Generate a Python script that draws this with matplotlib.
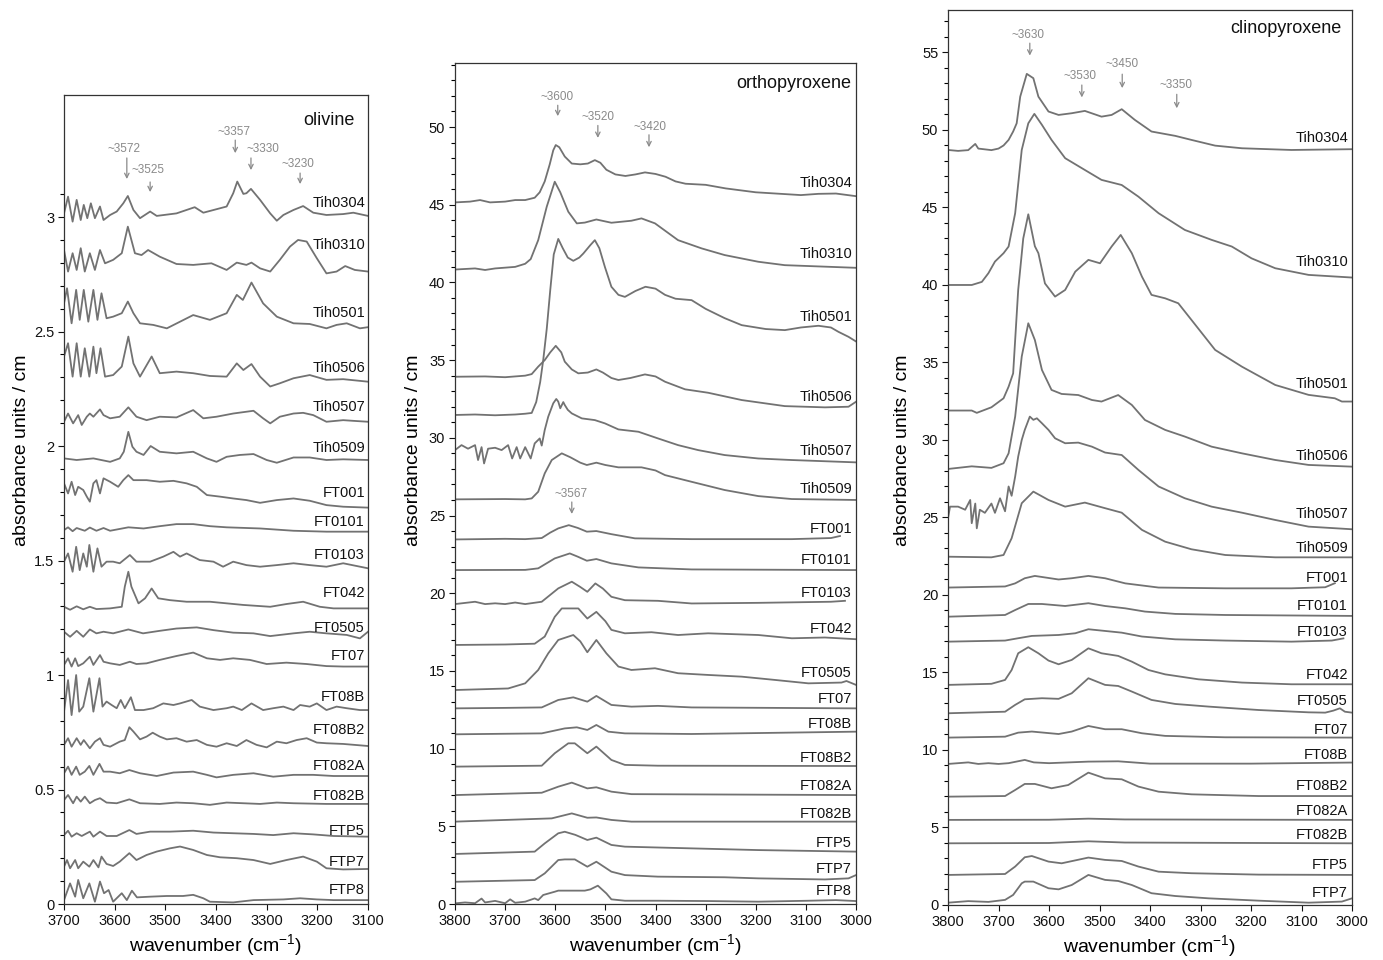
import matplotlib
matplotlib.use("Agg")
import matplotlib.pyplot as plt
from matplotlib.ticker import MultipleLocator, FixedLocator
import matplotlib.transforms as mtransforms

plt.rcParams['font.family'] = ['Liberation Sans', 'DejaVu Sans']
plt.rcParams['mathtext.default'] = 'regular'

# ---------------- olivine ----------------
ol_names = ["Tih0304", "Tih0310", "Tih0501", "Tih0506", "Tih0507", "Tih0509",
            "FT001", "FT0101", "FT0103", "FT042", "FT0505", "FT07", "FT08B",
            "FT08B2", "FT082A", "FT082B", "FTP5", "FTP7", "FTP8"]
ol_wn = [
    [3700, 3692, 3683, 3675, 3667, 3661, 3654, 3647, 3639, 3629, 3622, 3609, 3596, 3583, 3574, 3563, 3550, 3530, 3517,
     3478, 3442, 3425, 3379, 3366, 3358, 3346, 3340, 3331, 3313, 3293, 3280, 3267, 3247, 3228, 3208, 3182, 3149, 3129, 3100],
    [3700, 3692, 3683, 3675, 3667, 3659, 3649, 3639, 3629, 3619, 3603, 3586, 3574, 3560, 3547, 3534, 3511, 3478, 3445,
     3409, 3379, 3359, 3340, 3330, 3313, 3293, 3274, 3254, 3238, 3221, 3201, 3182, 3162, 3145, 3126, 3100],
    [3700, 3694, 3685, 3676, 3669, 3661, 3652, 3642, 3634, 3626, 3616, 3603, 3586, 3574, 3563, 3550, 3524, 3497, 3471,
     3445, 3412, 3379, 3359, 3347, 3330, 3307, 3280, 3247, 3215, 3182, 3162, 3142, 3116, 3100],
    [3700, 3692, 3683, 3675, 3667, 3659, 3650, 3642, 3636, 3628, 3619, 3603, 3586, 3573, 3563, 3550, 3527, 3511, 3478,
     3445, 3412, 3379, 3359, 3346, 3330, 3313, 3293, 3274, 3247, 3215, 3182, 3149, 3100],
    [3700, 3692, 3682, 3672, 3665, 3655, 3649, 3642, 3629, 3622, 3609, 3590, 3573, 3557, 3537, 3511, 3478, 3445, 3425,
     3399, 3366, 3326, 3307, 3293, 3274, 3247, 3228, 3208, 3182, 3149, 3129, 3100],
    [3700, 3675, 3642, 3609, 3590, 3582, 3573, 3565, 3557, 3543, 3529, 3511, 3478, 3445, 3418, 3399, 3379, 3353, 3326,
     3300, 3280, 3247, 3215, 3182, 3149, 3100],
    [3700, 3692, 3685, 3678, 3672, 3662, 3655, 3649, 3642, 3636, 3629, 3622, 3609, 3593, 3583, 3573, 3563, 3537, 3511,
     3484, 3458, 3438, 3418, 3392, 3366, 3340, 3313, 3280, 3247, 3215, 3182, 3149, 3100],
    [3700, 3692, 3683, 3675, 3659, 3649, 3636, 3622, 3609, 3573, 3543, 3511, 3478, 3445, 3412, 3379, 3313, 3247, 3182, 3100],
    [3700, 3692, 3683, 3676, 3669, 3662, 3655, 3650, 3642, 3634, 3626, 3616, 3603, 3590, 3570, 3557, 3530, 3504, 3484,
     3471, 3458, 3432, 3405, 3386, 3366, 3340, 3313, 3280, 3247, 3215, 3182, 3149, 3100],
    [3700, 3688, 3675, 3662, 3649, 3636, 3609, 3586, 3580, 3573, 3567, 3553, 3540, 3527, 3514, 3491, 3458, 3412, 3346,
     3293, 3261, 3228, 3195, 3168, 3100],
    [3700, 3688, 3675, 3662, 3649, 3636, 3622, 3603, 3573, 3544, 3511, 3478, 3438, 3405, 3366, 3326, 3293, 3247, 3215,
     3182, 3142, 3116, 3100],
    [3700, 3692, 3685, 3678, 3672, 3662, 3649, 3642, 3629, 3622, 3609, 3590, 3570, 3557, 3537, 3511, 3478, 3445, 3418,
     3392, 3366, 3333, 3300, 3261, 3221, 3182, 3149, 3100],
    [3700, 3692, 3685, 3676, 3670, 3662, 3650, 3642, 3630, 3624, 3616, 3606, 3596, 3588, 3580, 3568, 3560, 3543, 3524,
     3504, 3484, 3471, 3448, 3432, 3405, 3379, 3366, 3349, 3330, 3307, 3287, 3267, 3247, 3234, 3215, 3201, 3182, 3162,
     3142, 3116, 3100],
    [3700, 3692, 3685, 3675, 3667, 3661, 3649, 3639, 3629, 3622, 3609, 3590, 3580, 3571, 3563, 3550, 3537, 3525, 3511,
     3497, 3478, 3458, 3438, 3418, 3399, 3379, 3359, 3340, 3320, 3300, 3280, 3261, 3241, 3221, 3201, 3182, 3149, 3100],
    [3700, 3692, 3685, 3676, 3669, 3659, 3650, 3642, 3630, 3622, 3609, 3590, 3571, 3550, 3517, 3484, 3445, 3418, 3399,
     3366, 3326, 3287, 3247, 3208, 3168, 3100],
    [3700, 3692, 3682, 3675, 3667, 3659, 3649, 3639, 3629, 3616, 3596, 3571, 3550, 3511, 3478, 3445, 3412, 3379, 3346,
     3313, 3280, 3247, 3182, 3100],
    [3700, 3692, 3685, 3675, 3665, 3649, 3642, 3629, 3616, 3596, 3571, 3557, 3530, 3491, 3445, 3405, 3366, 3326, 3287,
     3247, 3208, 3168, 3100],
    [3700, 3694, 3688, 3678, 3672, 3662, 3650, 3642, 3632, 3626, 3616, 3603, 3590, 3571, 3557, 3537, 3517, 3491, 3471,
     3445, 3418, 3392, 3359, 3326, 3293, 3261, 3228, 3201, 3182, 3149, 3100],
    [3700, 3688, 3678, 3672, 3662, 3650, 3639, 3629, 3621, 3612, 3603, 3586, 3576, 3566, 3556, 3530, 3497, 3465, 3445,
     3425, 3412, 3366, 3326, 3267, 3234, 3201, 3168, 3135, 3100],
]
ol_abs = [
    [3.016, 3.089, 2.980, 3.075, 2.987, 3.053, 2.995, 3.060, 2.995, 3.046, 2.987, 3.009, 3.024, 3.060, 3.092, 3.031,
     2.995, 3.024, 3.005, 3.016, 3.043, 3.019, 3.046, 3.104, 3.155, 3.101, 3.104, 3.123, 3.075, 3.016, 2.984, 3.009,
     3.031, 3.048, 3.019, 3.009, 3.013, 3.019, 3.005],
    [2.856, 2.762, 2.842, 2.769, 2.864, 2.762, 2.842, 2.769, 2.856, 2.798, 2.813, 2.842, 2.958, 2.842, 2.834, 2.856,
     2.827, 2.795, 2.791, 2.798, 2.769, 2.801, 2.791, 2.801, 2.776, 2.762, 2.813, 2.871, 2.900, 2.893, 2.820, 2.754,
     2.762, 2.786, 2.769, 2.762],
    [2.623, 2.689, 2.536, 2.682, 2.551, 2.682, 2.543, 2.682, 2.551, 2.667, 2.558, 2.565, 2.580, 2.631, 2.580, 2.536,
     2.529, 2.514, 2.543, 2.572, 2.551, 2.580, 2.660, 2.638, 2.714, 2.623, 2.565, 2.536, 2.533, 2.514, 2.529, 2.536,
     2.514, 2.519],
    [2.391, 2.449, 2.303, 2.449, 2.303, 2.427, 2.303, 2.434, 2.318, 2.427, 2.303, 2.310, 2.347, 2.478, 2.361, 2.303,
     2.391, 2.318, 2.325, 2.318, 2.306, 2.303, 2.361, 2.332, 2.358, 2.303, 2.260, 2.274, 2.296, 2.310, 2.289, 2.292,
     2.281],
    [2.106, 2.142, 2.099, 2.135, 2.092, 2.128, 2.142, 2.128, 2.160, 2.135, 2.121, 2.128, 2.169, 2.128, 2.113, 2.128,
     2.125, 2.157, 2.121, 2.128, 2.142, 2.154, 2.121, 2.099, 2.128, 2.142, 2.145, 2.135, 2.106, 2.113, 2.110, 2.106],
    [1.946, 1.939, 1.946, 1.931, 1.946, 1.975, 2.062, 1.997, 1.975, 1.961, 2.000, 1.975, 1.968, 1.975, 1.946, 1.931,
     1.953, 1.961, 1.965, 1.939, 1.927, 1.950, 1.950, 1.939, 1.942, 1.939],
    [1.837, 1.793, 1.844, 1.786, 1.822, 1.808, 1.779, 1.757, 1.837, 1.851, 1.793, 1.859, 1.844, 1.822, 1.851, 1.873,
     1.851, 1.851, 1.844, 1.848, 1.837, 1.822, 1.786, 1.779, 1.771, 1.764, 1.752, 1.764, 1.771, 1.761, 1.742, 1.735,
     1.731],
    [1.633, 1.645, 1.628, 1.642, 1.630, 1.644, 1.630, 1.642, 1.630, 1.645, 1.640, 1.650, 1.659, 1.659, 1.650, 1.645,
     1.640, 1.630, 1.626, 1.626],
    [1.495, 1.531, 1.451, 1.560, 1.458, 1.531, 1.473, 1.568, 1.451, 1.553, 1.473, 1.495, 1.495, 1.488, 1.524, 1.495,
     1.495, 1.517, 1.538, 1.517, 1.531, 1.502, 1.495, 1.473, 1.495, 1.480, 1.473, 1.480, 1.488, 1.480, 1.473, 1.488,
     1.466],
    [1.298, 1.285, 1.300, 1.287, 1.298, 1.288, 1.291, 1.298, 1.386, 1.451, 1.386, 1.313, 1.335, 1.378, 1.335, 1.327,
     1.320, 1.320, 1.306, 1.298, 1.310, 1.320, 1.298, 1.291, 1.291],
    [1.189, 1.167, 1.193, 1.167, 1.199, 1.182, 1.189, 1.182, 1.199, 1.182, 1.193, 1.203, 1.208, 1.196, 1.185, 1.182,
     1.170, 1.182, 1.189, 1.182, 1.175, 1.160, 1.189],
    [1.044, 1.073, 1.037, 1.073, 1.039, 1.051, 1.080, 1.044, 1.087, 1.058, 1.051, 1.044, 1.058, 1.048, 1.051, 1.066,
     1.083, 1.098, 1.073, 1.066, 1.073, 1.066, 1.048, 1.054, 1.048, 1.039, 1.037, 1.037],
    [0.840, 0.978, 0.825, 1.000, 0.840, 0.862, 0.986, 0.840, 0.986, 0.862, 0.884, 0.869, 0.855, 0.891, 0.855, 0.903,
     0.847, 0.847, 0.855, 0.876, 0.869, 0.876, 0.891, 0.862, 0.847, 0.855, 0.862, 0.847, 0.876, 0.847, 0.855, 0.862,
     0.847, 0.869, 0.862, 0.876, 0.847, 0.862, 0.855, 0.847, 0.847],
    [0.695, 0.724, 0.687, 0.724, 0.695, 0.716, 0.680, 0.709, 0.724, 0.695, 0.687, 0.709, 0.716, 0.772, 0.753, 0.719,
     0.731, 0.748, 0.731, 0.719, 0.724, 0.709, 0.716, 0.695, 0.687, 0.702, 0.690, 0.716, 0.695, 0.684, 0.709, 0.702,
     0.716, 0.724, 0.705, 0.702, 0.699, 0.690],
    [0.571, 0.600, 0.564, 0.600, 0.564, 0.578, 0.603, 0.564, 0.612, 0.578, 0.578, 0.571, 0.585, 0.571, 0.559, 0.574,
     0.578, 0.564, 0.553, 0.564, 0.571, 0.556, 0.564, 0.564, 0.559, 0.559],
    [0.454, 0.476, 0.440, 0.469, 0.447, 0.469, 0.440, 0.454, 0.462, 0.443, 0.440, 0.457, 0.440, 0.437, 0.443, 0.440,
     0.433, 0.443, 0.440, 0.437, 0.443, 0.440, 0.437, 0.437],
    [0.301, 0.320, 0.294, 0.309, 0.297, 0.316, 0.294, 0.316, 0.297, 0.297, 0.323, 0.306, 0.316, 0.316, 0.320, 0.312,
     0.309, 0.306, 0.301, 0.309, 0.304, 0.297, 0.294],
    [0.163, 0.192, 0.156, 0.192, 0.156, 0.185, 0.163, 0.192, 0.160, 0.207, 0.175, 0.166, 0.185, 0.222, 0.192, 0.214,
     0.229, 0.243, 0.251, 0.236, 0.214, 0.204, 0.200, 0.192, 0.175, 0.192, 0.207, 0.185, 0.156, 0.151, 0.153],
    [0.017, 0.090, 0.032, 0.105, 0.025, 0.090, 0.010, 0.098, 0.047, 0.061, 0.010, 0.047, 0.017, 0.058, 0.029, 0.032,
     0.035, 0.035, 0.040, 0.025, 0.010, 0.007, 0.017, 0.020, 0.025, 0.020, 0.017, 0.017, 0.017],
]
ol_label_y = [3.06, 2.88, 2.58, 2.34, 2.17, 1.99, 1.795, 1.668, 1.524, 1.358, 1.205, 1.083, 0.904,
              0.76, 0.603, 0.472, 0.319, 0.183, 0.061]
ol_peaks = ["~3572", "~3525", "~3357", "~3330", "~3230"]
ol_peak_wn = [3576, 3530, 3362, 3331, 3234]
ol_peak_text_wn = [3582, 3534, 3364, 3307, 3238]
ol_peak_text_y = [3.297, 3.205, 3.371, 3.297, 3.231]
ol_arrow_top = [3.258, 3.153, 3.336, 3.258, 3.192]
ol_arrow_tip = [3.166, 3.109, 3.279, 3.205, 3.144]

# ---------------- orthopyroxene ----------------
opx_names = ["Tih0304", "Tih0310", "Tih0501", "Tih0506", "Tih0507", "Tih0509",
             "FT001", "FT0101", "FT0103", "FT042", "FT0505", "FT07", "FT08B",
             "FT08B2", "FT082A", "FT082B", "FTP5", "FTP7", "FTP8"]
opx_wn = [
    [3800, 3770, 3750, 3730, 3700, 3680, 3660, 3641, 3631, 3621, 3611, 3604, 3599, 3592, 3581, 3567, 3550, 3535, 3521,
     3510, 3498, 3480, 3460, 3440, 3421, 3400, 3380, 3360, 3340, 3300, 3260, 3200, 3150, 3110, 3075, 3040, 3000],
    [3800, 3760, 3740, 3720, 3700, 3680, 3660, 3649, 3634, 3617, 3601, 3590, 3574, 3557, 3541, 3518, 3488, 3448, 3428,
     3401, 3355, 3308, 3262, 3195, 3142, 3000],
    [3800, 3760, 3720, 3680, 3660, 3647, 3638, 3630, 3624, 3617, 3610, 3603, 3594, 3585, 3575, 3564, 3552, 3544, 3530,
     3521, 3512, 3501, 3488, 3474, 3461, 3440, 3420, 3400, 3381, 3360, 3328, 3300, 3262, 3228, 3180, 3142, 3110, 3075,
     3050, 3035, 3015, 3000],
    [3800, 3740, 3700, 3660, 3647, 3634, 3621, 3610, 3599, 3588, 3581, 3567, 3554, 3535, 3518, 3505, 3488, 3474, 3450,
     3421, 3400, 3381, 3341, 3295, 3228, 3142, 3062, 3015, 3000],
    [3800, 3787, 3774, 3760, 3754, 3747, 3742, 3734, 3720, 3707, 3694, 3686, 3677, 3670, 3660, 3649, 3641, 3631, 3627,
     3621, 3614, 3604, 3598, 3594, 3590, 3584, 3581, 3575, 3567, 3547, 3521, 3501, 3474, 3434, 3395, 3355, 3315, 3262,
     3195, 3128, 3000],
    [3800, 3700, 3660, 3647, 3634, 3621, 3607, 3587, 3570, 3550, 3537, 3518, 3500, 3474, 3428, 3400, 3381, 3328, 3262,
     3195, 3128, 3000],
    [3800, 3700, 3660, 3627, 3610, 3594, 3573, 3555, 3537, 3518, 3488, 3441, 3328, 3128, 3050, 3032],
    [3800, 3660, 3634, 3601, 3571, 3555, 3537, 3518, 3488, 3434, 3328, 3000],
    [3800, 3760, 3740, 3720, 3700, 3680, 3660, 3627, 3594, 3567, 3550, 3536, 3520, 3505, 3488, 3461, 3395, 3328, 3195,
     3050, 3022],
    [3800, 3700, 3641, 3621, 3601, 3587, 3554, 3536, 3518, 3500, 3488, 3461, 3408, 3355, 3295, 3195, 3128, 3062, 3000],
    [3800, 3694, 3660, 3634, 3614, 3594, 3564, 3550, 3536, 3518, 3498, 3474, 3448, 3401, 3355, 3295, 3228, 3162, 3095,
     3029, 3019, 3000],
    [3800, 3700, 3627, 3594, 3564, 3536, 3518, 3488, 3448, 3395, 3328, 3000],
    [3800, 3627, 3581, 3557, 3536, 3518, 3494, 3461, 3328, 3000],
    [3800, 3627, 3601, 3574, 3561, 3536, 3518, 3488, 3461, 3395, 3000],
    [3800, 3627, 3594, 3567, 3536, 3518, 3488, 3448, 3000],
    [3800, 3607, 3567, 3536, 3518, 3488, 3448, 3000],
    [3800, 3641, 3621, 3594, 3581, 3560, 3536, 3518, 3488, 3461, 3328, 3195, 3000],
    [3800, 3641, 3621, 3594, 3581, 3561, 3536, 3518, 3488, 3461, 3395, 3262, 3195, 3062, 3015, 3000],
    [3800, 3780, 3760, 3747, 3740, 3720, 3700, 3690, 3680, 3660, 3641, 3634, 3624, 3601, 3594, 3541, 3530, 3515, 3498,
     3488, 3461, 3395, 3295, 3195, 3095, 3040, 3000],
]
opx_abs = [
    [45.15, 45.2, 45.3, 45.15, 45.2, 45.3, 45.3, 45.45, 45.8, 46.5, 47.6, 48.5, 48.84, 48.7, 48.1, 47.65, 47.6, 47.65,
     47.87, 47.7, 47.25, 46.95, 46.85, 46.95, 47.08, 46.98, 46.8, 46.5, 46.35, 46.28, 46.05, 45.8, 45.7, 45.62, 45.7,
     45.72, 45.55],
    [40.83, 40.9, 40.8, 40.9, 40.95, 41.0, 41.2, 41.5, 42.72, 44.87, 46.48, 45.8, 44.55, 43.8, 43.85, 44.05, 43.84,
     43.97, 44.12, 43.8, 42.72, 42.19, 41.76, 41.33, 41.11, 40.94],
    [31.47, 31.5, 31.45, 31.5, 31.55, 31.6, 32.3, 33.6, 35.0, 37.0, 39.5, 41.8, 42.8, 42.2, 41.6, 41.39, 41.6, 41.86,
     42.4, 42.72, 42.2, 41.0, 39.72, 39.2, 39.07, 39.45, 39.72, 39.6, 39.2, 38.95, 38.86, 38.3, 37.7, 37.25, 37.0,
     36.93, 37.1, 37.21, 37.1, 36.82, 36.5, 36.2],
    [33.93, 33.95, 33.9, 34.0, 34.1, 34.58, 35.0, 35.5, 35.92, 35.5, 34.9, 34.4, 34.15, 34.2, 34.4, 34.2, 33.85, 33.72,
     33.85, 34.08, 33.95, 33.61, 33.12, 32.9, 32.43, 32.04, 31.96, 32.0, 32.32],
    [29.21, 29.53, 29.3, 29.53, 28.57, 29.4, 28.35, 29.3, 29.36, 29.21, 29.53, 28.67, 29.4, 28.67, 29.4, 28.67, 29.64,
     29.96, 29.5, 30.5, 31.36, 32.22, 32.5, 32.33, 31.9, 32.3, 32.11, 31.8, 31.57, 31.25, 31.14, 30.93, 30.54, 30.39,
     29.96, 29.53, 29.21, 28.89, 28.67, 28.57, 28.42],
    [26.04, 26.06, 26.04, 26.1, 26.53, 27.71, 28.57, 29.0, 28.75, 28.4, 28.25, 28.4, 28.25, 28.1, 28.1, 27.9, 27.6,
     27.17, 26.64, 26.25, 26.06, 26.0],
    [23.46, 23.5, 23.48, 23.55, 23.9, 24.17, 24.38, 24.2, 23.96, 24.0, 23.8, 23.53, 23.48, 23.48, 23.55, 23.68],
    [21.49, 21.5, 21.6, 22.24, 22.56, 22.35, 22.09, 22.2, 21.92, 21.66, 21.53, 21.49],
    [19.3, 19.45, 19.3, 19.35, 19.3, 19.4, 19.3, 19.45, 20.31, 20.74, 20.4, 20.09, 20.63, 20.3, 19.77, 19.55, 19.51,
     19.34, 19.38, 19.45, 19.51],
    [16.67, 16.7, 16.75, 17.21, 18.48, 19.02, 19.02, 18.37, 18.8, 18.2, 17.64, 17.42, 17.49, 17.31, 17.42, 17.31, 17.1,
     17.15, 17.04],
    [13.77, 13.87, 14.2, 15.06, 16.13, 16.99, 17.31, 16.9, 16.2, 16.99, 16.13, 15.28, 15.06, 15.17, 14.85, 14.74, 14.63,
     14.42, 14.2, 14.25, 14.35, 14.1],
    [12.59, 12.62, 12.65, 13.13, 13.3, 13.02, 13.39, 12.81, 12.7, 12.75, 12.65, 12.59],
    [10.92, 10.98, 11.3, 11.37, 11.2, 11.52, 11.09, 10.98, 10.94, 11.09],
    [8.84, 8.9, 9.7, 10.34, 10.34, 9.7, 10.13, 9.27, 8.95, 8.9, 8.88],
    [7.01, 7.16, 7.55, 7.81, 7.44, 7.51, 7.23, 7.07, 7.01],
    [5.3, 5.51, 5.83, 5.55, 5.57, 5.41, 5.3, 5.3],
    [3.22, 3.37, 3.9, 4.55, 4.65, 4.45, 4.12, 4.27, 3.8, 3.69, 3.58, 3.47, 3.37],
    [1.43, 1.54, 1.97, 2.83, 2.87, 2.87, 2.4, 2.72, 2.08, 1.86, 1.76, 1.72, 1.65, 1.58, 1.65, 1.86],
    [0.04, 0.1, 0.05, 0.35, 0.1, 0.2, 0.05, 0.3, 0.08, 0.15, 0.36, 0.25, 0.58, 0.79, 0.86, 0.86, 0.94, 1.18, 0.68, 0.3,
     0.21, 0.21, 0.19, 0.15, 0.21, 0.25, 0.19],
]
opx_label_y = [46.4, 41.83, 37.77, 32.63, 29.15, 26.71, 24.13, 22.14, 20.01, 17.7, 14.86, 13.19, 11.58,
               9.4, 7.59, 5.79, 3.93, 2.25, 0.84]
opx_peaks = ["~3600", "~3520", "~3420", "~3567"]
opx_peak_wn = [3595, 3515, 3413, 3567]
opx_peak_text_wn = [3597, 3515, 3411, 3569]
opx_peak_text_y = [51.93, 50.64, 50.0, 26.38]
opx_arrow_top = [51.4, 50.1, 49.5, 25.87]
opx_arrow_tip = [50.7, 49.3, 48.7, 25.1]

# ---------------- clinopyroxene ----------------
cpx_names = ["Tih0304", "Tih0310", "Tih0501", "Tih0506", "Tih0507", "Tih0509",
             "FT001", "FT0101", "FT0103", "FT042", "FT0505", "FT07", "FT08B",
             "FT08B2", "FT082A", "FT082B", "FTP5", "FTP7"]
cpx_wn = [
    [3800, 3780, 3760, 3746, 3740, 3727, 3714, 3700, 3690, 3680, 3671, 3664, 3657, 3644, 3631, 3621, 3601, 3581, 3555,
     3529, 3496, 3476, 3456, 3430, 3397, 3350, 3318, 3271, 3218, 3120, 3000],
    [3800, 3753, 3733, 3720, 3707, 3690, 3680, 3667, 3654, 3641, 3629, 3614, 3595, 3568, 3529, 3496, 3456, 3423, 3383,
     3331, 3278, 3238, 3199, 3152, 3086, 3000],
    [3800, 3753, 3743, 3714, 3690, 3680, 3671, 3661, 3651, 3641, 3628, 3621, 3608, 3588, 3568, 3548, 3522, 3499, 3476,
     3458, 3436, 3416, 3397, 3370, 3344, 3318, 3271, 3218, 3152, 3086, 3034, 3020, 3000],
    [3800, 3753, 3714, 3690, 3680, 3667, 3654, 3641, 3628, 3614, 3595, 3575, 3542, 3515, 3496, 3463, 3436, 3410, 3370,
     3331, 3278, 3218, 3152, 3086, 3000],
    [3800, 3796, 3780, 3766, 3756, 3753, 3746, 3743, 3737, 3727, 3714, 3707, 3697, 3687, 3680, 3674, 3667, 3661, 3654,
     3648, 3638, 3631, 3624, 3614, 3601, 3588, 3568, 3542, 3515, 3489, 3456, 3423, 3383, 3331, 3278, 3218, 3152, 3086,
     3000],
    [3800, 3714, 3690, 3674, 3654, 3631, 3601, 3568, 3529, 3489, 3456, 3416, 3370, 3318, 3251, 3152, 3000],
    [3800, 3687, 3667, 3648, 3628, 3581, 3555, 3522, 3489, 3449, 3383, 3251, 3120, 3053, 3034],
    [3800, 3687, 3667, 3641, 3614, 3568, 3522, 3489, 3449, 3410, 3350, 3251, 3000],
    [3800, 3687, 3661, 3634, 3581, 3548, 3522, 3489, 3456, 3416, 3350, 3251, 3120, 3040, 3017],
    [3800, 3714, 3687, 3674, 3661, 3641, 3621, 3601, 3581, 3555, 3522, 3496, 3463, 3436, 3403, 3370, 3304, 3218, 3120,
     3000],
    [3800, 3687, 3667, 3648, 3614, 3581, 3555, 3522, 3489, 3463, 3436, 3397, 3350, 3284, 3185, 3086, 3053, 3037, 3024,
     3014, 3000],
    [3800, 3687, 3661, 3634, 3581, 3555, 3522, 3489, 3456, 3416, 3370, 3251, 3000],
    [3800, 3760, 3740, 3720, 3700, 3680, 3648, 3630, 3600, 3522, 3463, 3400, 3200, 3000],
    [3800, 3687, 3667, 3648, 3628, 3595, 3562, 3522, 3489, 3456, 3423, 3383, 3318, 3185, 3000],
    [3800, 3600, 3522, 3450, 3000],
    [3800, 3600, 3522, 3450, 3000],
    [3800, 3687, 3667, 3648, 3634, 3601, 3575, 3522, 3489, 3456, 3423, 3383, 3318, 3185, 3000],
    [3800, 3760, 3720, 3687, 3671, 3654, 3648, 3631, 3601, 3581, 3555, 3522, 3489, 3463, 3436, 3397, 3350, 3284, 3185,
     3086, 3020, 3000],
]
cpx_abs = [
    [48.71, 48.65, 48.7, 49.1, 48.8, 48.75, 48.7, 48.8, 49.0, 49.36, 49.9, 50.43, 52.15, 53.62, 53.34, 52.15, 51.19,
     50.97, 51.08, 51.23, 50.86, 50.97, 51.34, 50.65, 49.9, 49.62, 49.36, 48.99, 48.82, 48.71, 48.76],
    [40.0, 40.0, 40.2, 40.76, 41.51, 42.05, 42.48, 44.63, 48.71, 50.43, 51.04, 50.33, 49.36, 48.18, 47.42, 46.78, 46.45,
     45.7, 44.63, 43.55, 42.91, 42.48, 41.72, 41.08, 40.65, 40.48],
    [31.9, 31.9, 31.75, 32.11, 32.69, 33.44, 34.3, 39.68, 43.0, 44.56, 42.5, 42.05, 40.1, 39.25, 39.68, 40.86, 41.62,
     41.4, 42.48, 43.23, 42.05, 40.54, 39.36, 39.14, 38.82, 37.75, 35.81, 34.73, 33.55, 32.91, 32.69, 32.48, 32.48],
    [28.13, 28.3, 28.2, 28.5, 29.14, 31.51, 35.38, 37.53, 36.45, 34.52, 33.23, 32.97, 32.9, 32.58, 32.48, 32.9, 32.26,
     31.29, 30.65, 30.22, 29.57, 29.14, 28.71, 28.39, 28.28],
    [24.95, 25.7, 25.7, 25.5, 26.13, 24.63, 25.9, 24.3, 25.5, 25.3, 25.9, 25.3, 26.24, 25.4, 27.0, 26.4, 27.64, 28.93,
     30.0, 30.65, 31.51, 31.3, 31.4, 31.08, 30.65, 30.11, 29.79, 29.83, 29.57, 29.19, 29.03, 28.07, 27.0, 26.24, 25.7,
     25.31, 24.84, 24.41, 24.24],
    [22.47, 22.43, 22.58, 23.66, 25.92, 26.67, 26.13, 25.7, 25.96, 25.6, 25.31, 24.2, 23.44, 22.95, 22.58, 22.43, 22.43],
    [20.48, 20.55, 20.75, 21.08, 21.23, 21.0, 21.08, 21.23, 21.08, 20.75, 20.48, 20.43, 20.43, 20.5, 20.76],
    [18.6, 18.71, 19.03, 19.42, 19.42, 19.29, 19.47, 19.29, 19.14, 18.93, 18.78, 18.71, 18.65],
    [16.99, 17.06, 17.21, 17.36, 17.42, 17.53, 17.79, 17.68, 17.57, 17.32, 17.14, 17.06, 16.99, 17.06, 17.2],
    [14.2, 14.27, 14.52, 15.16, 16.24, 16.63, 16.24, 15.77, 15.53, 15.81, 16.56, 16.24, 16.07, 15.7, 15.16, 14.88, 14.56,
     14.35, 14.24, 14.24],
    [12.37, 12.47, 12.91, 13.27, 13.34, 13.3, 13.66, 14.63, 14.2, 14.13, 13.77, 13.23, 12.97, 12.8, 12.58, 12.43, 12.41,
     12.54, 12.69, 12.47, 12.41],
    [10.8, 10.86, 11.12, 11.19, 11.03, 11.19, 11.55, 11.34, 11.34, 11.08, 10.91, 10.82, 10.8],
    [9.1, 9.2, 9.1, 9.15, 9.1, 9.15, 9.36, 9.2, 9.15, 9.25, 9.27, 9.12, 9.12, 9.19],
    [6.99, 7.03, 7.42, 7.81, 7.81, 7.53, 7.74, 8.54, 8.17, 8.11, 7.64, 7.31, 7.14, 7.03, 7.03],
    [5.49, 5.5, 5.57, 5.52, 5.49],
    [3.98, 4.0, 4.11, 4.03, 3.98],
    [1.94, 2.0, 2.48, 3.08, 3.16, 2.8, 2.69, 3.06, 2.91, 2.84, 2.48, 2.15, 2.05, 1.96, 1.94],
    [0.15, 0.25, 0.2, 0.33, 0.65, 1.4, 1.51, 1.51, 1.08, 1.01, 1.29, 1.94, 1.62, 1.55, 1.29, 0.76, 0.58, 0.43, 0.28,
     0.15, 0.22, 0.43],
]
cpx_label_y = [49.48, 41.48, 33.61, 28.97, 25.23, 23.03, 21.1, 19.29, 17.61, 14.84, 13.16, 11.29, 9.68,
               7.68, 6.06, 4.52, 2.58, 0.77]
cpx_peaks = ["~3630", "~3530", "~3450", "~3350"]
cpx_peak_wn = [3638, 3535, 3455, 3347]
cpx_peak_text_wn = [3642, 3539, 3455, 3349]
cpx_peak_text_y = [56.13, 53.48, 54.26, 52.9]
cpx_arrow_top = [55.6, 52.9, 53.6, 52.3]
cpx_arrow_tip = [54.8, 52.1, 52.7, 51.4]

line_color = '#727272'
peak_color = '#8a8a8a'

fig = plt.figure(figsize=(13.83, 9.6), dpi=100)


def draw_panel(ax, title, names, wns, absb, label_y, peaks, peak_wn, text_wn, text_y,
               arrow_top, arrow_tip, xlim, ylim, title_pos):
    for w, a in zip(wns, absb):
        ax.plot(w, a, color=line_color, lw=1.3, solid_joinstyle='round')
    trans = mtransforms.blended_transform_factory(ax.transAxes, ax.transData)
    for name, ly in zip(names, label_y):
        ax.text(0.99, ly, name, transform=trans, ha='right', va='center', fontsize=10.5, color='#111111')
    for lab, pw, tw, ty, at, ap in zip(peaks, peak_wn, text_wn, text_y, arrow_top, arrow_tip):
        ax.text(tw, ty, lab, ha='center', va='center', fontsize=8.5, color=peak_color)
        ax.annotate('', xy=(pw, ap), xytext=(pw, at),
                    arrowprops=dict(arrowstyle='->', color=peak_color, lw=0.9,
                                    shrinkA=0, shrinkB=0, mutation_scale=8))
    ax.text(title_pos[0], title_pos[1], title, transform=ax.transAxes, ha='right', va='center',
            fontsize=13, color='#111111')
    ax.set_xlim(*xlim)
    ax.set_ylim(*ylim)
    ax.xaxis.set_major_locator(MultipleLocator(100))
    ax.tick_params(axis='both', which='major', direction='out', length=4, width=0.8,
                   labelsize=10.5, pad=3, colors='#111111')
    ax.tick_params(axis='y', which='minor', direction='out', length=3, width=0.8)
    for sp in ax.spines.values():
        sp.set_linewidth(0.9)
        sp.set_color('#333333')
    ax.set_xlabel('wavenumber (cm$^{-1}$)', fontsize=14, labelpad=3)


ax1 = fig.add_axes([64 / 1383, 56 / 960, 304 / 1383, 809 / 960])
draw_panel(ax1, 'olivine', ol_names, ol_wn, ol_abs, ol_label_y, ol_peaks, ol_peak_wn,
           ol_peak_text_wn, ol_peak_text_y, ol_arrow_top, ol_arrow_tip,
           (3700, 3100), (0, 3.533), (0.957, 0.969))
# olivine ticks stop at 3 (labels) and 3.1 (minor)
ax1.yaxis.set_major_locator(FixedLocator([0, 0.5, 1, 1.5, 2, 2.5, 3]))
ax1.yaxis.set_minor_locator(FixedLocator([i / 10 for i in range(32)]))
ax1.yaxis.set_major_formatter(plt.FuncFormatter(lambda v, p: '%g' % v))

ax2 = fig.add_axes([455 / 1383, 56 / 960, 401 / 1383, 841 / 960])
draw_panel(ax2, 'orthopyroxene', opx_names, opx_wn, opx_abs, opx_label_y, opx_peaks, opx_peak_wn,
           opx_peak_text_wn, opx_peak_text_y, opx_arrow_top, opx_arrow_tip,
           (3800, 3000), (0, 54.12), (0.9875, 0.976))
ax2.yaxis.set_major_locator(MultipleLocator(5))
ax2.yaxis.set_minor_locator(MultipleLocator(1))

ax3 = fig.add_axes([948 / 1383, 55 / 960, 404 / 1383, 895 / 960])
draw_panel(ax3, 'clinopyroxene', cpx_names, cpx_wn, cpx_abs, cpx_label_y, cpx_peaks, cpx_peak_wn,
           cpx_peak_text_wn, cpx_peak_text_y, cpx_arrow_top, cpx_arrow_tip,
           (3800, 3000), (0, 57.74), (0.975, 0.979))
ax3.yaxis.set_major_locator(MultipleLocator(5))
ax3.yaxis.set_minor_locator(MultipleLocator(1))

# y axis labels sit at about the same height in every panel
for xpx in (22, 413, 903):
    fig.text(xpx / 1383, 1 - 450 / 960, 'absorbance units / cm', rotation=90,
             ha='center', va='center', fontsize=14)

fig.savefig('out.png', dpi=100)
